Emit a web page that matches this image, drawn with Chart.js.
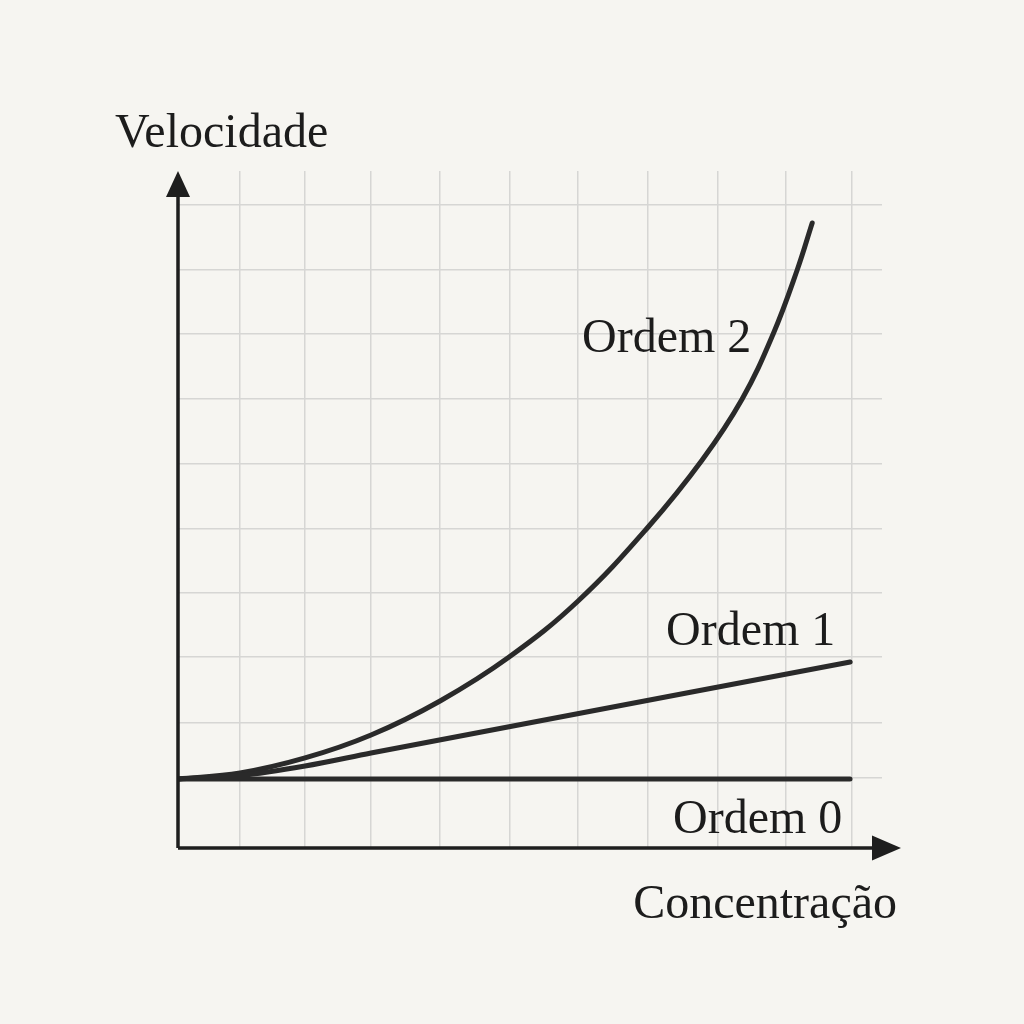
<!DOCTYPE html>
<html>
<head>
<meta charset="utf-8">
<script src="https://cdn.jsdelivr.net/npm/chart.js@4.4.1/dist/chart.umd.min.js"></script>
<style>
  html, body { margin: 0; padding: 0; background: #f6f5f1; }
  #wrap { width: 1024px; height: 1024px; }
</style>
</head>
<body>
<div id="wrap"><canvas id="c" width="1024" height="1024"></canvas></div>
<script>
// ---- Data (concentration in grid units, velocity in grid units) ----
const seriesNames = ["Ordem 0", "Ordem 1", "Ordem 2"];
const ordem0X = [0, 9.88];
const ordem0Y = [1.062, 1.062];
const ordem1X = [0, 0.912, 1.868, 2.838, 9.882];
const ordem1Y = [1.062, 1.115, 1.262, 1.462, 2.862];
const ordem2X = [0, 0.912, 1.868, 2.838, 3.853, 4.868, 5.882, 6.912, 7.706, 8.294, 8.750, 9.103, 9.324];
const ordem2Y = [1.062, 1.154, 1.385, 1.738, 2.262, 2.938, 3.800, 4.938, 5.969, 6.908, 7.908, 8.892, 9.615];
const xGridValues = [0.91, 1.87, 2.84, 3.85, 4.87, 5.88, 6.91, 7.93, 8.93, 9.90];
const yGridValues = [1.08, 1.92, 2.94, 3.92, 4.91, 5.91, 6.91, 7.91, 8.89, 9.89];
const xAxisTitle = "Concentração";
const yAxisTitle = "Velocidade";

const toPts = (xs, ys) => xs.map((x, i) => ({ x: x, y: ys[i] }));

const INK = '#1c1c1c';
const FONT = '48px "Liberation Serif", "Times New Roman", serif';

const decor = {
  id: 'decor',
  beforeDraw(chart) {
    const ctx = chart.ctx;
    ctx.save();
    ctx.fillStyle = '#f6f5f1';
    ctx.fillRect(0, 0, chart.width, chart.height);
    ctx.restore();
  },
  afterDraw(chart) {
    const ctx = chart.ctx;
    const a = chart.chartArea;
    ctx.save();
    // axes
    ctx.strokeStyle = '#1e1e1e';
    ctx.fillStyle = '#1e1e1e';
    ctx.lineWidth = 3.5;
    ctx.beginPath();
    ctx.moveTo(a.left, a.bottom);
    ctx.lineTo(a.left, a.top + 20);
    ctx.moveTo(a.left, a.bottom);
    ctx.lineTo(a.right + 2, a.bottom);
    ctx.stroke();
    // y arrow
    ctx.beginPath();
    ctx.moveTo(a.left, a.top);
    ctx.lineTo(a.left - 12, a.top + 26);
    ctx.lineTo(a.left + 12, a.top + 26);
    ctx.closePath();
    ctx.fill();
    // x arrow
    ctx.beginPath();
    ctx.moveTo(a.right + 19, a.bottom);
    ctx.lineTo(a.right - 10, a.bottom - 12.5);
    ctx.lineTo(a.right - 10, a.bottom + 12.5);
    ctx.closePath();
    ctx.fill();

    // texts
    ctx.fillStyle = INK;
    ctx.font = FONT;
    ctx.textBaseline = 'alphabetic';
    ctx.textAlign = 'left';
    ctx.fillText(yAxisTitle, a.left - 63, a.top - 24);
    ctx.textAlign = 'right';
    ctx.fillText(xAxisTitle, a.right + 15, a.bottom + 70);
    ctx.textAlign = 'left';
    ctx.fillText(seriesNames[2], 582, 352);
    ctx.fillText(seriesNames[1], 666, 645);
    ctx.fillText(seriesNames[0], 673, 833);
    ctx.restore();
  }
};

const lineStyle = {
  borderColor: '#2a2a2a',
  borderWidth: 5,
  pointRadius: 0,
  fill: false,
  borderCapStyle: 'round',
  borderJoinStyle: 'round'
};

new Chart(document.getElementById('c'), {
  type: 'line',
  data: {
    datasets: [
      Object.assign({ label: seriesNames[0], data: toPts(ordem0X, ordem0Y), tension: 0 }, lineStyle),
      Object.assign({ label: seriesNames[1], data: toPts(ordem1X, ordem1Y), cubicInterpolationMode: 'monotone' }, lineStyle),
      Object.assign({ label: seriesNames[2], data: toPts(ordem2X, ordem2Y), tension: 0.4 }, lineStyle)
    ]
  },
  options: {
    responsive: false,
    animation: false,
    devicePixelRatio: 1,
    layout: { padding: { left: 178, right: 142, top: 171, bottom: 176 } },
    plugins: { legend: { display: false }, tooltip: { enabled: false } },
    scales: {
      x: {
        type: 'linear', min: 0, max: 10.35,
        afterBuildTicks: (s) => { s.ticks = xGridValues.map(v => ({ value: v })); },
        ticks: { display: false },
        border: { display: false },
        grid: { color: '#d6d6d4', lineWidth: 1.5, drawTicks: false }
      },
      y: {
        type: 'linear', min: 0, max: 10.415,
        afterBuildTicks: (s) => { s.ticks = yGridValues.map(v => ({ value: v })); },
        ticks: { display: false },
        border: { display: false },
        grid: { color: '#d6d6d4', lineWidth: 1.5, drawTicks: false }
      }
    }
  },
  plugins: [decor]
});
</script>
</body>
</html>
